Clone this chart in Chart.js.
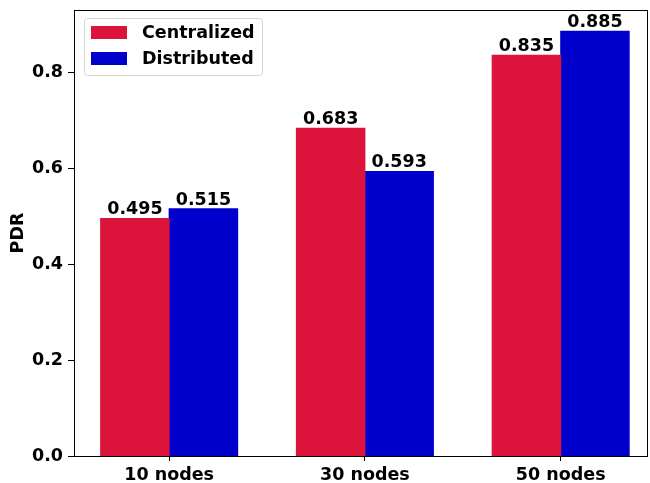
<!DOCTYPE html>
<html lang="en">
<head>
    <meta charset="UTF-8">
    <title>PDR by network size</title>
    <style>
        body { margin: 0; padding: 0; background: #fff; }
        #wrap { width: 650px; height: 483px; }
    </style>
</head>
<body>
    <div id="wrap"><canvas id="pdrChart" width="650" height="483"></canvas></div>

    <script src="https://cdn.jsdelivr.net/npm/chart.js"></script>
    <script>
        // Data
        const categories = ['10 nodes', '30 nodes', '50 nodes'];
        const centralized = [0.495, 0.683, 0.835];
        const distributed = [0.515, 0.593, 0.885];
        const yTicks = [0.0, 0.2, 0.4, 0.6, 0.8];

        const FONT = "'DejaVu Sans', sans-serif";
        const FS = 17.5;

        // bar value labels on top of each bar
        const valueLabels = {
            id: 'valueLabels',
            afterDatasetsDraw(chart) {
                const ctx = chart.ctx;
                ctx.save();
                ctx.font = 'bold ' + FS + 'px ' + FONT;
                ctx.fillStyle = '#000';
                ctx.textAlign = 'center';
                ctx.textBaseline = 'bottom';
                chart.data.datasets.forEach((ds, i) => {
                    chart.getDatasetMeta(i).data.forEach((bar, j) => {
                        ctx.fillText(ds.data[j].y.toFixed(3), bar.x, bar.y);
                    });
                });
                ctx.restore();
            }
        };

        // matplotlib-like frame and legend box
        const frameAndLegend = {
            id: 'frameAndLegend',
            afterDraw(chart) {
                const ctx = chart.ctx;
                const a = chart.chartArea;
                ctx.save();
                ctx.strokeStyle = '#000';
                ctx.lineWidth = 1;
                ctx.strokeRect(Math.round(a.left) + 0.5, Math.round(a.top) + 0.5,
                    Math.round(a.right - a.left) - 1, Math.round(a.bottom - a.top));

                // legend
                const x = a.left + 10, y = a.top + 8, w = 178, h = 57;
                ctx.beginPath();
                ctx.roundRect(x + 0.5, y + 0.5, w, h, 3);
                ctx.fillStyle = 'rgba(255,255,255,0.8)';
                ctx.fill();
                ctx.strokeStyle = '#d5d5d5';
                ctx.stroke();
                ctx.font = 'bold ' + FS + 'px ' + FONT;
                ctx.textBaseline = 'middle';
                ctx.textAlign = 'left';
                chart.data.datasets.forEach((ds, i) => {
                    const cy = y + 14 + i * 26;
                    ctx.fillStyle = ds.backgroundColor;
                    ctx.fillRect(x + 7, cy - 6, 36, 13);
                    ctx.fillStyle = '#000';
                    ctx.fillText(ds.label, x + 58, cy + 1);
                });
                ctx.restore();
            }
        };

        new Chart(document.getElementById('pdrChart'), {
            type: 'bar',
            data: {
                datasets: [
                    {
                        label: 'Centralized',
                        data: categories.map((c, i) => ({ x: i, y: centralized[i] })),
                        backgroundColor: '#DC143C'
                    },
                    {
                        label: 'Distributed',
                        data: categories.map((c, i) => ({ x: i, y: distributed[i] })),
                        backgroundColor: '#0000CD'
                    }
                ]
            },
            options: {
                responsive: false,
                animation: false,
                layout: { padding: { top: 10, right: 2, left: 0, bottom: 0 } },
                datasets: {
                    bar: { categoryPercentage: 0.7, barPercentage: 1.0, borderWidth: 0, inflateAmount: 0.5 }
                },
                plugins: {
                    legend: { display: false },
                    tooltip: { enabled: false }
                },
                scales: {
                    x: {
                        type: 'linear',
                        min: -0.486,
                        max: 2.446,
                        offset: false,
                        afterBuildTicks(scale) {
                            scale.ticks = categories.map((c, i) => ({ value: i }));
                        },
                        afterFit(scale) {
                            scale.height = 27;
                            scale.paddingLeft = 0;
                            scale.paddingRight = 0;
                        },
                        grid: {
                            offset: false,
                            drawOnChartArea: false,
                            drawTicks: true,
                            tickLength: 5,
                            color: '#000'
                        },
                        border: { display: false },
                        ticks: {
                            callback: (v) => categories[v],
                            color: '#000',
                            padding: 4,
                            maxRotation: 0,
                            font: { family: FONT, size: FS, weight: 'bold' }
                        }
                    },
                    y: {
                        min: 0,
                        max: 0.92925,
                        afterBuildTicks(scale) {
                            scale.ticks = yTicks.map(v => ({ value: v }));
                        },
                        afterFit(scale) {
                            scale.width = 74;
                            scale.paddingTop = 0;
                            scale.paddingBottom = 0;
                        },
                        grid: {
                            drawOnChartArea: false,
                            drawTicks: true,
                            tickLength: 6,
                            color: '#000'
                        },
                        border: { display: false },
                        ticks: {
                            callback: (v) => v.toFixed(1),
                            color: '#000',
                            padding: 5,
                            font: { family: FONT, size: FS, weight: 'bold' }
                        },
                        title: {
                            display: true,
                            text: 'PDR',
                            color: '#000',
                            padding: { top: 8, bottom: 2 },
                            font: { family: FONT, size: FS, weight: 'bold' }
                        }
                    }
                }
            },
            plugins: [valueLabels, frameAndLegend]
        });
    </script>
</body>
</html>
